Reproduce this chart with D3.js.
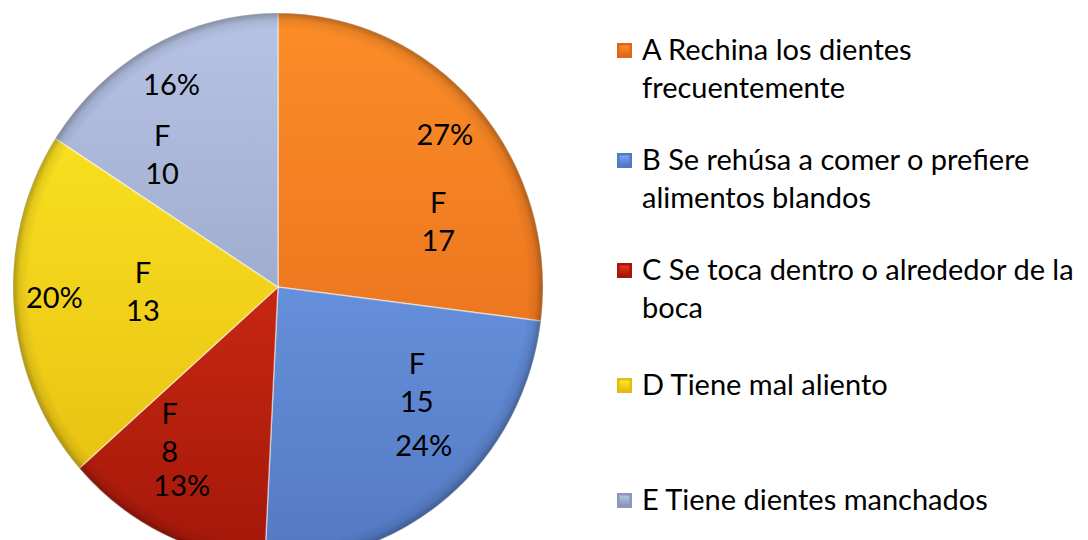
<!DOCTYPE html>
<html>
<head>
<meta charset="utf-8">
<script src="https://cdn.jsdelivr.net/npm/d3@7"></script>
<style>
  body { margin: 0; background: #fff; }
  svg { display: block; font-family: Lato, "Open Sans", sans-serif; }
</style>
</head>
<body>
<svg id="chart" width="1088" height="540"></svg>
<script>
// data
const categories = [
  "A Rechina los dientes frecuentemente",
  "B Se rehúsa a comer o prefiere alimentos blandos",
  "C Se toca dentro o alrededor de la boca",
  "D Tiene mal aliento",
  "E Tiene dientes manchados"
];
const values = [17, 15, 8, 13, 10];
const percentLabels = ["27%", "24%", "13%", "20%", "16%"];
const seriesName = "F";

// legend lines as wrapped in the picture
const legendLines = [
  ["A Rechina los dientes", "frecuentemente"],
  ["B Se rehúsa a comer o prefiere", "alimentos blandos"],
  ["C Se toca dentro o alrededor de la", "boca"],
  ["D Tiene mal aliento"],
  ["E Tiene dientes manchados"]
];

// light / dark shade for each slice
const colorsTop = ["#fb8d27", "#76a6f3", "#e8381a", "#ffea24", "#b6c3e4"];
const colorsBottom = ["#e2661a", "#5479c2", "#a4170a", "#e4bb10", "#8a97b8"];

// label placement: fraction along the slice, fraction of radius
const valueLabelAt = [[0.705, 0.65], [0.31, 0.63], [0.76, 0.67], [0.53, 0.51], [0.26, 0.65]];
const percentLabelAt = [[0.5, 0.84], [0.46, 0.80], [0.52, 0.81], [0.52, 0.845], [0.5, 0.84]];

const svg = d3.select("#chart");
const cx = 278, cy = 287, r = 265, sy = 274 / 265;
const fontSize = 29;

const defs = svg.append("defs");
values.forEach((v, i) => {
  const g = defs.append("linearGradient")
    .attr("id", "grad" + i)
    .attr("gradientUnits", "userSpaceOnUse")
    .attr("x1", 0).attr("y1", -r).attr("x2", 0).attr("y2", r);
  g.append("stop").attr("offset", "0%").attr("stop-color", colorsTop[i]);
  g.append("stop").attr("offset", "100%").attr("stop-color", colorsBottom[i]);

  const m = defs.append("linearGradient")
    .attr("id", "mark" + i)
    .attr("x1", 0).attr("y1", 0).attr("x2", 0).attr("y2", 1);
  m.append("stop").attr("offset", "0%").attr("stop-color", colorsTop[i]);
  m.append("stop").attr("offset", "100%").attr("stop-color", colorsBottom[i]);
});

const rim = defs.append("radialGradient").attr("id", "rim")
  .attr("cx", "50%").attr("cy", "50%").attr("r", "50%");
rim.append("stop").attr("offset", "0%").attr("stop-color", "#000").attr("stop-opacity", 0);
rim.append("stop").attr("offset", "94%").attr("stop-color", "#000").attr("stop-opacity", 0);
rim.append("stop").attr("offset", "97.5%").attr("stop-color", "#000").attr("stop-opacity", 0.08);
rim.append("stop").attr("offset", "100%").attr("stop-color", "#000").attr("stop-opacity", 0.28);

const pie = d3.pie().sort(null).value(d => d);
const arcs = pie(values);
const arc = d3.arc().innerRadius(0).outerRadius(r);

const g = svg.append("g")
  .attr("transform", `translate(${cx},${cy}) scale(1,${sy})`);

g.selectAll("path.slice")
  .data(arcs)
  .enter()
  .append("path")
  .attr("class", "slice")
  .attr("d", arc)
  .attr("fill", (d, i) => "url(#grad" + i + ")")
  .attr("stroke", "#ffffff")
  .attr("stroke-opacity", 0.5)
  .attr("stroke-width", 1.4);

g.append("circle")
  .attr("r", r)
  .attr("fill", "url(#rim)")
  .attr("pointer-events", "none");

// label positions in page coordinates
function pt(angle, rad) {
  return [cx + Math.sin(angle) * rad, cy - Math.cos(angle) * rad * sy];
}

const labels = svg.append("g")
  .attr("font-size", fontSize)
  .attr("fill", "#000")
  .attr("text-anchor", "middle");

arcs.forEach((d, i) => {
  const span = d.endAngle - d.startAngle;
  const p = pt(d.startAngle + span * percentLabelAt[i][0], r * percentLabelAt[i][1]);
  labels.append("text")
    .attr("x", p[0]).attr("y", p[1])
    .attr("dy", "0.35em")
    .text(percentLabels[i]);

  const q = pt(d.startAngle + span * valueLabelAt[i][0], r * valueLabelAt[i][1]);
  labels.append("text")
    .attr("x", q[0]).attr("y", q[1] - 19)
    .attr("dy", "0.35em")
    .text(seriesName);
  labels.append("text")
    .attr("x", q[0]).attr("y", q[1] + 19)
    .attr("dy", "0.35em")
    .text(values[i]);
});

// legend
const legendY = [60, 170, 280, 395, 510];
const legend = svg.append("g").attr("font-size", fontSize);

categories.forEach((c, i) => {
  const item = legend.append("g").attr("transform", `translate(617,${legendY[i]})`);
  item.append("rect")
    .attr("x", 0).attr("y", -17)
    .attr("width", 15).attr("height", 15)
    .attr("fill", colorsBottom[i]);
  item.append("rect")
    .attr("x", 2.5).attr("y", -14.5)
    .attr("width", 10).attr("height", 10)
    .attr("fill", "url(#mark" + i + ")");
  item.append("text")
    .attr("x", 25).attr("y", 0)
    .selectAll("tspan")
    .data(legendLines[i])
    .enter()
    .append("tspan")
    .attr("x", 25)
    .attr("dy", (d, j) => j === 0 ? 0 : 38)
    .text(d => d);
});
</script>
</body>
</html>
